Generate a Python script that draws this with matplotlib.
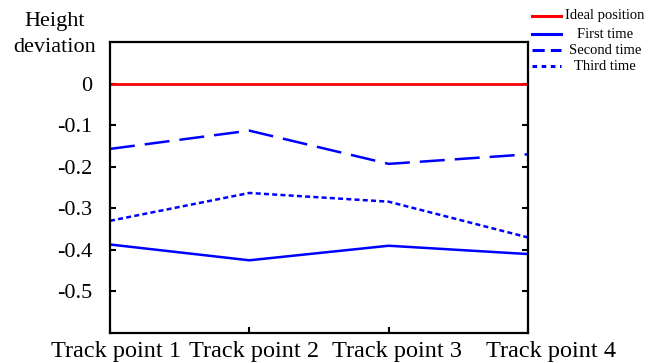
import numpy as np
import matplotlib.pyplot as plt
from matplotlib.lines import Line2D
from matplotlib.transforms import ScaledTranslation

plt.rcParams['font.family'] = ['Liberation Serif', 'DejaVu Serif']

points = ['Track point 1', 'Track point 2', 'Track point 3', 'Track point 4']
ideal = [0, 0, 0, 0]
first = [-0.387, -0.425, -0.390, -0.410]
second = [-0.157, -0.113, -0.193, -0.170]
third = [-0.330, -0.263, -0.284, -0.370]
yticks = [0, -0.1, -0.2, -0.3, -0.4, -0.5]
names = ['Ideal position', 'First time', 'Second time', 'Third time']

x = np.arange(1, len(points) + 1)

fig = plt.figure(figsize=(6.61, 3.63), dpi=100)
ax = fig.add_axes([0.1664, 0.0826, 0.6324, 0.8014])

styles = [dict(color='#ff0000', lw=2.0),
          dict(color='#0000ff', lw=1.8),
          dict(color='#0000ff', lw=1.8, dashes=(10, 4)),
          dict(color='#0000ff', lw=1.8, dashes=(2, 1.3))]
for ys, st, nm in zip([ideal, first, second, third], styles, names):
    ax.plot(x, ys, label=nm, **st)

ax.set_xlim(1, 4)
ax.set_ylim(-0.6, 0.1)
ax.set_xticks(x)
ax.set_xticklabels(points, fontsize=17.5)
ax.set_yticks(yticks)
ax.set_yticklabels(['0' if v == 0 else ('%.1f' % v) for v in yticks], fontsize=16)
ax.tick_params(direction='in', right=True, length=4, width=1.5)
ax.tick_params(axis='y', pad=13)
ax.tick_params(axis='x', pad=6)
for s in ax.spines.values():
    s.set_linewidth(1.6)

# the x labels in the source sit slightly right of their ticks
shifts = [6, 5, 8, 23]
for lab, dx in zip(ax.get_xticklabels(), shifts):
    lab.set_transform(lab.get_transform() + ScaledTranslation(dx / 100, 0, fig.dpi_scale_trans))

fig.text(54.5 / 661, 1 - 26 / 363, 'Height', ha='center', va='baseline', fontsize=16)
fig.text(54.5 / 661, 1 - 52 / 363, 'deviation', ha='center', va='baseline', fontsize=16)

# legend, texts centred like the source
leg_styles = [dict(color='#ff0000', lw=2.2),
              dict(color='#0000ff', lw=2.2),
              dict(color='#0000ff', lw=2.2, dashes=(4, 2)),
              dict(color='#0000ff', lw=2.2, dashes=(1.5, 1.5))]
leg_y = [16, 34, 50, 66]
for nm, st, yy in zip(names, leg_styles, leg_y):
    yf = 1 - yy / 363
    fig.add_artist(Line2D([532 / 661, 561 / 661], [yf, yf], transform=fig.transFigure, **st))
    fig.text(605 / 661, yf, nm, ha='center', va='center', fontsize=10.5)

fig.savefig('out.png', dpi=100)
